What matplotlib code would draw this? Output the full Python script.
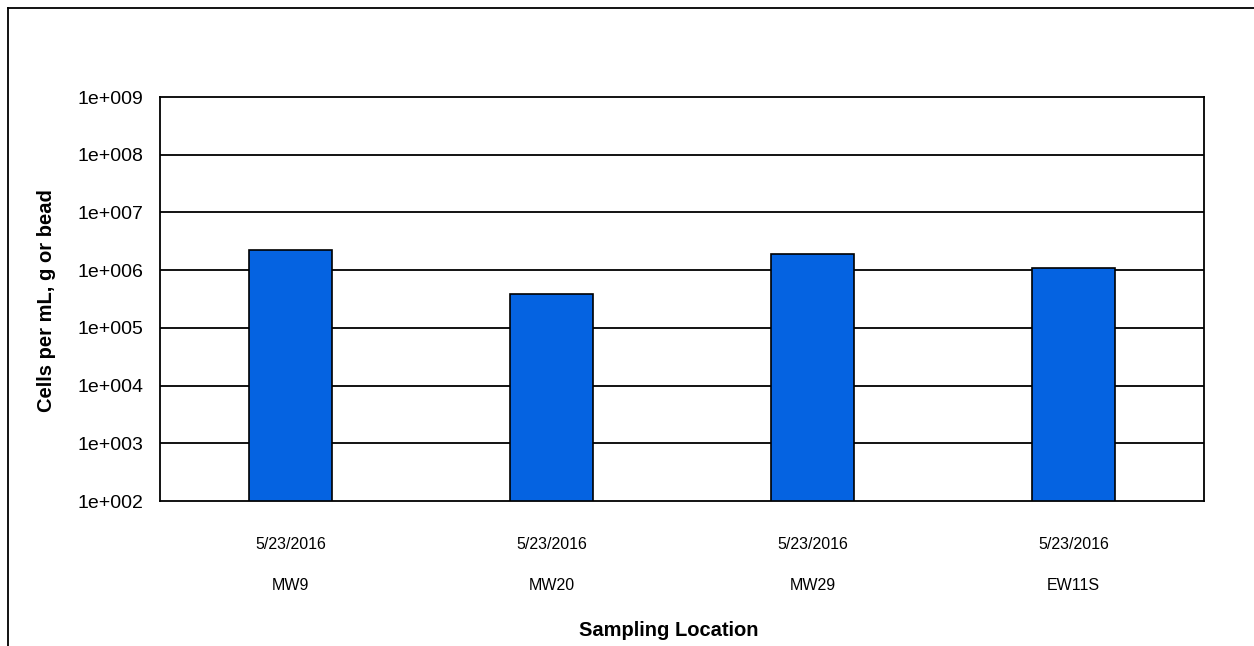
import matplotlib
matplotlib.use("Agg")
import matplotlib.pyplot as plt
from matplotlib.lines import Line2D
import numpy as np

plt.rcParams['font.family'] = ['Liberation Sans', 'DejaVu Sans']

locations = ["MW9", "MW20", "MW29", "EW11S"]
dates = ["5/23/2016", "5/23/2016", "5/23/2016", "5/23/2016"]
values = [2.2e6, 3.9e5, 1.9e6, 1.08e6]
ytick_vals = [1e2, 1e3, 1e4, 1e5, 1e6, 1e7, 1e8, 1e9]
ytick_labels = ["1e+002", "1e+003", "1e+004", "1e+005", "1e+006", "1e+007", "1e+008", "1e+009"]

W, H = 1254, 646
fig = plt.figure(figsize=(W / 100, H / 100), dpi=100)
ax = fig.add_axes([160 / W, 1 - 501 / H, (1204 - 160) / W, (501 - 97) / H])

x = np.arange(len(locations)) + 0.5
ax.set_yscale('log')
ax.set_ylim(1e2, 1e9)
ax.set_xlim(0, len(locations))
for v in ytick_vals[1:-1]:
    ax.axhline(v, color='black', lw=1.3, zorder=1)
ax.bar(x, values, width=0.32, bottom=1e2, color='#0563E1', edgecolor='black', linewidth=1.2, zorder=3)

ax.set_yticks(ytick_vals)
ax.set_yticklabels(ytick_labels, fontsize=14)
ax.yaxis.set_minor_locator(matplotlib.ticker.NullLocator())
ax.tick_params(axis='y', length=0, pad=12)
ax.set_xticks(x)
ax.set_xticklabels([f"{d}\n\n{l}" for d, l in zip(dates, locations)], fontsize=11.5, linespacing=1.45)
ax.tick_params(axis='x', length=0, pad=26)
for s in ax.spines.values():
    s.set_linewidth(1.3)
    s.set_color('black')

fig.text(47 / W, 1 - 301 / H, "Cells per mL, g or bead", fontsize=14.5, fontweight='bold',
         rotation=90, ha='center', va='center')
fig.text(669 / W, 1 - 631 / H, "Sampling Location", fontsize=14.5, fontweight='bold',
         ha='center', va='center')

fig.add_artist(Line2D([8 / W, 8 / W], [0, 1 - 8 / H], color='black', lw=1.3, transform=fig.transFigure))
fig.add_artist(Line2D([8 / W, 1], [1 - 8 / H, 1 - 8 / H], color='black', lw=1.3, transform=fig.transFigure))

fig.savefig("out.png", dpi=100)
